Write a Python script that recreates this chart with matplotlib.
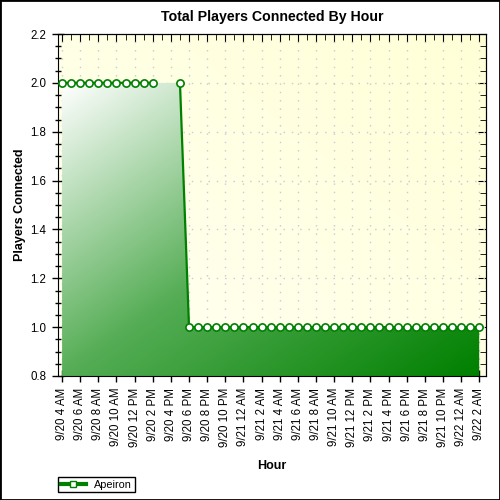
import numpy as np
import matplotlib.pyplot as plt
from matplotlib.colors import LinearSegmentedColormap
from matplotlib.patches import Rectangle
from matplotlib.lines import Line2D

plt.rcParams['font.family'] = ['Liberation Sans', 'DejaVu Sans']

# hours after 9/20 4 AM, one sample per hour (nan = no sample)
hours = list(range(47))
players = [2, 2, 2, 2, 2, 2, 2, 2, 2, 2, 2, np.nan, np.nan, 2,
           1, 1, 1, 1, 1, 1, 1, 1, 1, 1, 1, 1, 1, 1, 1, 1, 1, 1, 1,
           1, 1, 1, 1, 1, 1, 1, 1, 1, 1, 1, 1, 1, 1]
tick_labels = ['9/20 4 AM', '9/20 6 AM', '9/20 8 AM', '9/20 10 AM', '9/20 12 PM',
               '9/20 2 PM', '9/20 4 PM', '9/20 6 PM', '9/20 8 PM', '9/20 10 PM',
               '9/21 12 AM', '9/21 2 AM', '9/21 4 AM', '9/21 6 AM', '9/21 8 AM',
               '9/21 10 AM', '9/21 12 PM', '9/21 2 PM', '9/21 4 PM', '9/21 6 PM',
               '9/21 8 PM', '9/21 10 PM', '9/22 12 AM', '9/22 2 AM']
series = 'Apeiron'

green = '#008000'
x = np.array(hours, dtype=float)
y = np.array(players, dtype=float)
ok = ~np.isnan(y)

fig = plt.figure(figsize=(5, 5), dpi=100)
ax = fig.add_axes([0.116, 0.248, 0.856, 0.684])
ax.set_xlim(-0.45, 46.75)
ax.set_ylim(0.8, 2.2)

# plot background gradient
bg = LinearSegmentedColormap.from_list('bg', ['#fffff4', '#ffffd6'])
gx, gy = np.meshgrid(np.linspace(0, 1, 200), np.linspace(0, 1, 200))
ax.imshow((gx + gy) / 2, cmap=bg, extent=(-0.45, 46.75, 2.2, 0.8),
          aspect='auto', zorder=0)

ax.grid(True, which='major', color='#c8c8d8', linestyle=(0, (1, 5)), linewidth=1, zorder=1)

# area with diagonal gradient
fill = ax.fill_between(x[ok], y[ok], 0.8, color='none', zorder=2)
fg = LinearSegmentedColormap.from_list('fg', ['#ffffff', '#55ad55', green])
img = ax.imshow((gx + gy) / 2, cmap=fg, extent=(x[ok][0], x[ok][-1], 0.8, 2.0),
                origin='upper', aspect='auto', zorder=2)
img.set_clip_path(fill.get_paths()[0], transform=ax.transData)

ax.plot(x, y, color=green, lw=1.6, marker='o', ms=5.2, mfc='white', mec=green,
        mew=1.2, zorder=3, clip_on=False)

ax.set_xticks(hours[::2])
ax.set_xticks(hours, minor=True)
ax.set_xticklabels(tick_labels, rotation=90, fontsize=8.3)
ax.set_yticks(np.arange(0.8, 2.21, 0.2))
ax.set_yticks(np.arange(0.8, 2.21, 0.05), minor=True)
ax.set_yticklabels(['%.1f' % v for v in np.arange(0.8, 2.21, 0.2)], fontsize=8.3)
ax.tick_params(which='major', direction='inout', length=9, width=1, pad=4)
ax.tick_params(which='minor', direction='inout', length=5, width=1)
ax.tick_params(axis='x', which='minor', direction='in', length=4)

top = ax.secondary_xaxis('top')
top.set_xticks(hours[::2])
top.set_xticks(hours, minor=True)
top.tick_params(which='both', direction='in', labeltop=False, length=4)
top.tick_params(which='major', length=6)
right = ax.secondary_yaxis('right')
right.set_yticks(np.arange(0.8, 2.21, 0.2))
right.set_yticks(np.arange(0.8, 2.21, 0.05), minor=True)
right.tick_params(which='both', direction='in', labelright=False, length=4)
right.tick_params(which='major', length=6)

ax.set_title('Total Players Connected By Hour', fontsize=10.2, fontweight='bold', pad=9)
ax.set_xlabel('Hour', fontsize=9, fontweight='bold', labelpad=9)
ax.set_ylabel('Players Connected', fontsize=9, fontweight='bold', labelpad=3)

handle = Line2D([], [], color=green, lw=3, marker='s', ms=5, mfc='white', mec=green, mew=1)
fig.legend([handle], [series], loc='upper left', bbox_to_anchor=(0.116, 1 - 477 / 500),
           fontsize=7.8, fancybox=False, edgecolor='black', framealpha=1,
           borderpad=0.25, handlelength=2.3, borderaxespad=0, handletextpad=0.8)

fig.patches.append(Rectangle((0, 0), 1, 1, transform=fig.transFigure, fill=False,
                             edgecolor='black', lw=2))

fig.savefig('out.png', dpi=100, facecolor='white')
